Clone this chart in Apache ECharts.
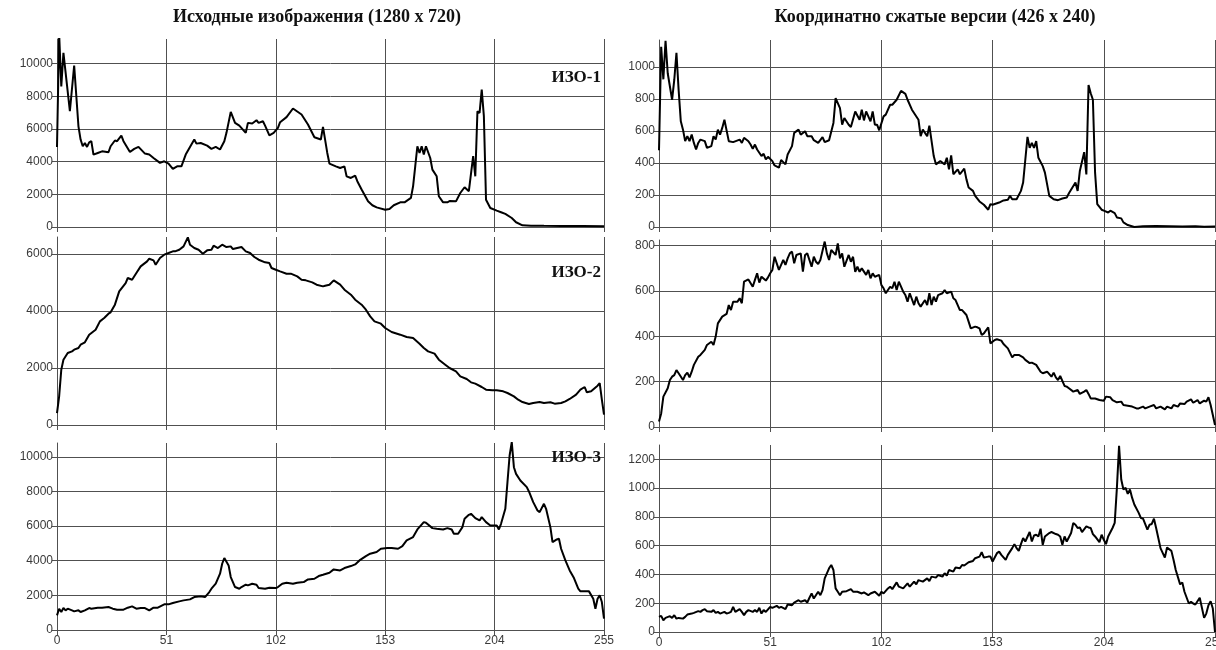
<!DOCTYPE html>
<html><head><meta charset="utf-8">
<script src="https://cdn.jsdelivr.net/npm/echarts@6/dist/echarts.min.js"></script>
<style>html,body{margin:0;padding:0;background:#fff}#c{width:1216px;height:650px}</style>
</head><body><div id="c"></div><script>
const leftTitle = 'Исходные изображения (1280 x 720)';
const rightTitle = 'Координатно сжатые версии (426 x 240)';
const panelLabels = ['ИЗО-1', 'ИЗО-2', 'ИЗО-3'];
const xMin = 0, xMax = 255, xStep = 51;
const yMaxFull = [11500, 6600, 10800];
const yMaxSmall = [1170, 825, 1300];
const yStepFull = 2000, yStepSmall = 200;

// [bin, count]
const iso1Full = [[0,4900],[1,11800],[2,8600],[3,10650],[6,7080],[8,9880],[10,6160],[11,5350],[12,4940],[13,5140],[14,4900],[15,5180],[16,5250],[17,4430],[19,4530],[21,4630],[24,4570],[25,4940],[27,5290],[28,5250],[30,5590],[31,5250],[34,4590],[36,4780],[38,4900],[41,4490],[43,4430],[45,4220],[48,3920],[50,4020],[52,3880],[54,3550],[56,3710],[58,3710],[60,4430],[62,4900],[64,5350],[65,5100],[67,5140],[70,4980],[72,4780],[74,4900],[76,4740],[78,5250],[79,5760],[81,7040],[83,6370],[85,6200],[88,5760],[89,6370],[91,6330],[93,6530],[94,6370],[96,6470],[97,6200],[99,5610],[101,5760],[103,6060],[104,6410],[107,6720],[110,7250],[114,6880],[117,6270],[120,5490],[123,5350],[124,6120],[126,4530],[127,3880],[130,3710],[132,3610],[134,3710],[135,3100],[137,3000],[139,3140],[140,2800],[142,2290],[145,1570],[147,1330],[149,1200],[153,1060],[155,1100],[157,1330],[160,1510],[162,1510],[165,1780],[166,2490],[167,3710],[168,4940],[169,4530],[170,4940],[171,4430],[172,4940],[174,4220],[175,3510],[177,3100],[178,1880],[180,1510],[182,1510],[183,1590],[186,1570],[188,2080],[190,2430],[192,2190],[194,4330],[195,3100],[196,7080],[197,6980],[198,8400],[199,6780],[200,1670],[202,1160],[205,1000],[207,900],[209,800],[212,550],[214,290],[217,100],[221,80],[227,70],[235,60],[245,60],[255,50]];

const iso1Small = [[0,480],[1,1127],[2,924],[3,1165],[4,962],[6,796],[7,920],[8,1090],[9,858],[10,661],[11,609],[12,537],[13,568],[14,537],[15,578],[16,526],[17,485],[18,526],[19,547],[21,537],[22,495],[24,506],[25,568],[26,547],[27,609],[28,578],[29,620],[30,671],[32,537],[34,531],[37,547],[38,526],[39,558],[41,537],[42,516],[43,489],[44,516],[45,485],[47,444],[48,458],[49,423],[50,439],[52,412],[53,385],[55,371],[56,419],[58,392],[59,454],[61,506],[62,589],[64,609],[65,578],[67,599],[68,568],[70,568],[71,543],[73,526],[75,562],[76,531],[78,543],[80,651],[81,806],[83,744],[84,640],[85,682],[87,640],[88,626],[90,723],[92,671],[93,734],[94,667],[95,723],[97,661],[98,723],[99,640],[100,640],[101,605],[103,692],[104,703],[106,765],[107,765],[109,796],[111,852],[113,833],[114,796],[116,734],[119,671],[120,568],[121,609],[123,568],[124,634],[126,444],[127,392],[129,412],[131,392],[132,433],[133,361],[134,448],[135,330],[137,361],[138,330],[140,365],[141,298],[142,247],[144,226],[145,195],[147,160],[149,139],[151,108],[152,143],[153,139],[156,153],[158,166],[160,170],[161,195],[162,174],[164,174],[166,226],[167,278],[169,564],[170,495],[171,526],[172,495],[173,537],[174,433],[176,381],[177,340],[179,195],[181,174],[183,168],[185,178],[187,184],[188,211],[191,278],[192,226],[193,350],[195,468],[196,329],[197,889],[198,837],[199,796],[200,340],[201,143],[203,108],[204,102],[206,91],[207,102],[209,87],[210,60],[212,54],[213,29],[215,12],[218,0],[222,4],[228,6],[234,5],[240,3],[246,5],[250,2],[255,3]];

const iso2Full = [[0,421],[1,1006],[2,1942],[3,2293],[5,2527],[7,2586],[8,2644],[10,2703],[11,2820],[13,2902],[15,3171],[18,3346],[20,3639],[22,3756],[24,3908],[25,3955],[27,4224],[29,4692],[32,4984],[33,5160],[35,5101],[37,5335],[39,5569],[42,5745],[43,5838],[45,5780],[46,5628],[48,5862],[50,5979],[52,6037],[54,6096],[55,6096],[57,6154],[59,6271],[61,6587],[62,6330],[64,6213],[66,6154],[68,6014],[70,6131],[72,6154],[73,6295],[75,6213],[77,6330],[79,6248],[81,6271],[82,6178],[84,6213],[86,6248],[88,6096],[90,6037],[92,5897],[94,5803],[97,5710],[99,5686],[100,5511],[102,5452],[104,5394],[107,5312],[109,5312],[112,5218],[114,5101],[116,5078],[119,5008],[121,4926],[124,4867],[125,4891],[127,4926],[129,5078],[132,4926],[134,4750],[137,4575],[139,4399],[142,4224],[144,4048],[146,3814],[148,3639],[151,3557],[153,3405],[156,3264],[160,3171],[163,3089],[166,3054],[169,2855],[171,2703],[173,2586],[176,2504],[178,2293],[181,2118],[183,2001],[186,1884],[188,1708],[191,1615],[193,1498],[195,1451],[198,1334],[200,1240],[203,1217],[205,1217],[208,1182],[210,1123],[213,1006],[215,889],[217,807],[220,737],[222,772],[225,807],[227,772],[230,796],[232,749],[235,772],[237,831],[239,913],[242,1065],[244,1240],[246,1334],[247,1147],[249,1182],[252,1381],[253,1474],[254,889],[255,363]];

const iso2Small = [[0,24],[1,60],[2,134],[4,171],[5,207],[6,222],[7,229],[8,251],[9,237],[11,207],[12,229],[13,240],[14,219],[15,244],[16,274],[18,310],[19,318],[21,340],[22,362],[24,376],[25,362],[26,399],[27,457],[29,487],[31,499],[32,538],[33,516],[34,553],[36,553],[37,568],[38,546],[39,641],[41,651],[43,619],[44,649],[45,678],[46,637],[47,663],[49,646],[50,660],[51,678],[52,693],[53,751],[54,722],[55,693],[57,737],[58,715],[59,744],[60,766],[61,774],[62,722],[63,759],[65,766],[66,685],[67,759],[68,766],[70,707],[71,751],[72,729],[73,719],[74,737],[76,818],[77,766],[78,737],[79,781],[81,759],[82,810],[83,744],[84,766],[85,707],[87,759],[88,729],[89,751],[90,685],[91,707],[92,685],[93,700],[95,671],[96,693],[97,656],[98,678],[99,663],[101,671],[102,626],[103,612],[104,590],[106,619],[107,612],[108,641],[109,604],[110,641],[112,597],[113,582],[114,553],[115,590],[117,538],[118,575],[119,546],[120,531],[122,560],[123,538],[124,590],[125,538],[126,575],[127,553],[128,582],[130,590],[131,604],[132,590],[134,597],[135,568],[136,560],[138,516],[139,516],[141,494],[142,465],[143,435],[145,443],[146,440],[147,435],[148,406],[149,413],[151,440],[152,369],[154,384],[155,387],[157,381],[158,366],[160,347],[162,307],[163,318],[165,318],[167,307],[168,296],[170,282],[171,284],[173,274],[175,244],[176,237],[178,244],[180,222],[181,240],[182,219],[183,207],[184,225],[186,181],[187,178],[188,171],[190,156],[192,163],[193,146],[195,156],[196,163],[197,146],[198,126],[200,126],[202,119],[204,116],[205,134],[207,131],[208,119],[210,109],[212,112],[213,97],[215,94],[217,90],[219,82],[220,82],[222,90],[223,82],[225,90],[227,97],[228,82],[230,90],[232,78],[233,90],[235,82],[236,97],[238,90],[239,104],[241,101],[242,112],[244,122],[245,107],[247,119],[248,104],[250,116],[251,112],[252,131],[253,97],[255,9]];

const iso3Full = [[0,846],[1,1231],[2,1038],[3,1269],[4,1135],[5,1231],[7,1135],[8,1077],[10,1135],[11,1038],[13,1135],[15,1269],[16,1231],[19,1288],[21,1288],[24,1327],[26,1231],[28,1173],[31,1173],[33,1288],[35,1365],[37,1231],[39,1269],[41,1269],[43,1135],[45,1288],[47,1288],[50,1481],[52,1481],[54,1558],[57,1654],[59,1711],[62,1769],[64,1904],[67,1942],[69,1904],[71,2192],[72,2385],[74,2673],[76,3250],[77,3827],[78,4154],[80,3731],[81,3058],[83,2481],[85,2385],[86,2481],[88,2615],[89,2577],[91,2673],[93,2615],[94,2423],[97,2385],[99,2442],[102,2423],[103,2481],[105,2673],[107,2731],[110,2673],[112,2731],[115,2769],[117,2923],[120,2961],[122,3115],[124,3192],[127,3308],[129,3500],[132,3442],[134,3577],[137,3692],[139,3788],[141,4019],[144,4269],[146,4404],[149,4500],[151,4692],[154,4731],[156,4731],[159,4692],[161,4846],[163,5173],[166,5365],[168,5807],[171,6231],[172,6192],[175,5884],[177,5846],[180,5807],[182,5884],[184,5807],[185,5557],[187,5557],[189,5942],[190,6423],[192,6654],[193,6711],[195,6461],[197,6327],[198,6519],[200,6231],[202,6038],[205,6038],[206,5807],[207,6134],[209,7000],[210,8538],[211,10077],[212,10846],[213,9403],[214,9019],[216,8634],[219,8250],[220,8000],[222,7384],[224,6904],[225,6807],[227,7288],[228,7000],[230,5942],[231,5077],[233,5230],[234,5269],[235,4692],[237,4019],[239,3442],[241,3000],[243,2385],[244,2231],[246,2231],[248,2231],[250,1808],[251,1231],[252,1808],[253,2000],[254,1615],[255,654]];

const iso3Small = [[0,105],[1,112],[2,82],[3,98],[5,110],[6,98],[7,117],[8,93],[9,98],[11,93],[12,105],[13,121],[15,128],[16,133],[18,145],[19,140],[20,152],[21,159],[22,145],[24,140],[25,152],[26,133],[27,140],[28,128],[30,140],[31,128],[32,133],[33,140],[34,175],[35,140],[37,159],[38,140],[39,117],[40,140],[41,152],[43,140],[44,152],[45,140],[46,168],[47,128],[48,152],[49,140],[51,175],[52,168],[54,182],[55,168],[56,175],[58,159],[59,191],[61,186],[62,205],[64,221],[65,210],[67,221],[68,205],[69,238],[70,268],[71,233],[73,280],[74,256],[75,291],[76,373],[78,443],[79,466],[80,431],[81,303],[82,280],[83,256],[84,280],[86,284],[88,298],[89,280],[91,280],[93,268],[94,275],[96,256],[97,268],[99,280],[101,252],[102,280],[103,268],[105,303],[106,315],[107,298],[109,345],[110,315],[112,303],[114,338],[115,315],[117,350],[118,331],[119,361],[121,350],[123,373],[124,354],[125,385],[127,378],[128,396],[130,385],[131,408],[132,392],[133,431],[135,420],[136,448],[138,443],[139,466],[140,462],[142,485],[144,494],[145,513],[147,524],[148,555],[149,517],[151,524],[152,524],[153,490],[155,548],[156,559],[157,536],[159,501],[160,536],[162,583],[163,611],[164,583],[165,564],[166,611],[167,653],[168,629],[170,695],[171,629],[172,671],[173,676],[174,664],[175,718],[176,606],[177,664],[179,688],[180,695],[182,681],[183,676],[184,664],[185,606],[186,664],[187,629],[189,688],[190,758],[191,746],[192,723],[193,727],[194,695],[196,734],[197,727],[198,723],[199,681],[200,664],[202,625],[203,676],[204,641],[205,611],[206,664],[208,723],[209,758],[210,1000],[211,1294],[212,1060],[213,991],[214,1002],[215,960],[216,991],[217,932],[218,886],[220,828],[221,793],[222,788],[224,711],[225,746],[226,751],[227,788],[228,723],[229,653],[230,583],[232,517],[233,587],[235,564],[236,501],[237,431],[239,331],[240,345],[241,280],[243,198],[244,210],[245,198],[246,191],[248,238],[250,98],[251,128],[252,186],[253,214],[254,163],[255,0]];

const seriesFull = [iso1Full, iso2Full, iso3Full];
const seriesSmall = [iso1Small, iso2Small, iso3Small];

const gridColor = '#505050';
const labelColor = '#3a3a3a';
const sans = '"Liberation Sans", Arial, sans-serif';
const serif = '"Liberation Serif", "Times New Roman", serif';

const gridBox = [
  {left: 57, top: 39, width: 547, height: 188},
  {left: 57, top: 237, width: 547, height: 188},
  {left: 57, top: 443, width: 547, height: 187},
  {left: 659, top: 40, width: 556, height: 187},
  {left: 659, top: 240, width: 556, height: 187},
  {left: 659, top: 445, width: 556, height: 187}
];
const grids = gridBox.map(g => Object.assign({containLabel: false, outerBoundsMode: 'none'}, g));

const plain = v => String(v);
const xAxes = [], yAxes = [], series = [];
for (let i = 0; i < 6; i++) {
  const small = i >= 3, row = i % 3;
  xAxes.push({
    type: 'value', gridIndex: i, min: xMin, max: xMax, interval: xStep,
    axisLine: {show: true, lineStyle: {color: gridColor, width: 1}},
    axisTick: {show: true, length: 5, lineStyle: {color: gridColor}},
    axisLabel: {show: row === 2, fontSize: 12, color: labelColor, fontFamily: sans, margin: 5, formatter: plain},
    splitLine: {show: true, showMinLine: false, lineStyle: {color: gridColor, width: 1}}
  });
  yAxes.push({
    type: 'value', gridIndex: i, min: 0,
    max: small ? yMaxSmall[row] : yMaxFull[row],
    interval: small ? yStepSmall : yStepFull,
    axisLine: {show: true, lineStyle: {color: gridColor, width: 1}},
    axisTick: {show: true, length: 5, lineStyle: {color: gridColor}},
    axisLabel: {fontSize: 12, color: labelColor, fontFamily: sans, margin: 4, showMaxLabel: false, formatter: plain},
    splitLine: {show: true, showMaxLine: false, lineStyle: {color: gridColor, width: 1}}
  });
  series.push({
    type: 'line', xAxisIndex: i, yAxisIndex: i,
    data: small ? seriesSmall[row] : seriesFull[row],
    showSymbol: false, symbol: 'none', clip: true, z: 5,
    lineStyle: {color: '#000', width: 2}
  });
}

const labelY = [78, 273, 458];
const graphics = [
  {type: 'text', x: 317, y: 17, style: {text: leftTitle, font: 'bold 18px ' + serif, fill: '#111', align: 'center', verticalAlign: 'middle'}},
  {type: 'text', x: 935, y: 17, style: {text: rightTitle, font: 'bold 18px ' + serif, fill: '#111', align: 'center', verticalAlign: 'middle'}}
];
panelLabels.forEach((t, k) => graphics.push({
  type: 'text', x: 601, y: labelY[k], z: 10,
  style: {text: t, font: 'bold 17px ' + serif, fill: '#111', align: 'right', verticalAlign: 'middle'}
}));

const chart = echarts.init(document.getElementById('c'), null, {renderer: 'canvas'});
chart.setOption({
  animation: false,
  backgroundColor: '#fff',
  grid: grids,
  xAxis: xAxes,
  yAxis: yAxes,
  series: series,
  graphic: graphics
});
</script></body></html>
